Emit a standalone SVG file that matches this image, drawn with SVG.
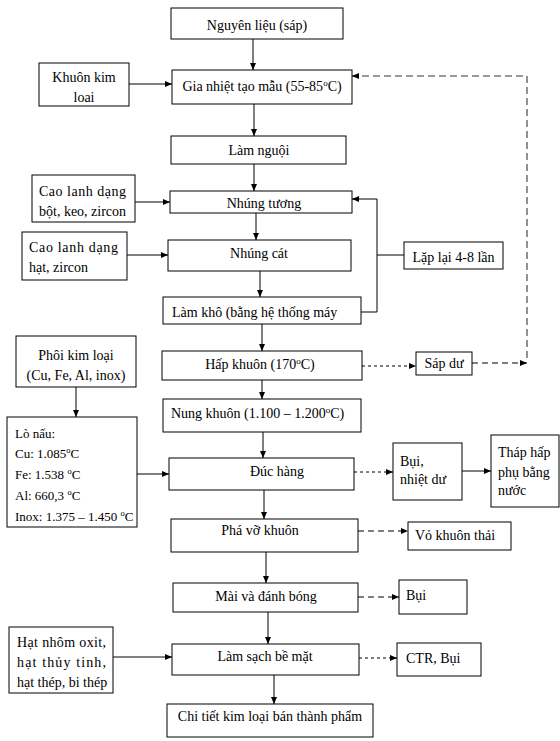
<svg xmlns="http://www.w3.org/2000/svg" width="560" height="741" viewBox="0 0 560 741">
<style>
rect{fill:#fff;stroke:#000;stroke-width:1}
text{font-family:"Liberation Serif","Times New Roman",serif;font-size:14px;fill:#000}
.c{text-anchor:middle}
.s{font-size:13px}
.ln{fill:none;stroke:#000;stroke-width:1}
.d1{stroke-dasharray:3,3}
.d2{stroke-dasharray:6,4}
.gr{fill:none;stroke:#777;stroke-width:1.6;stroke-dasharray:7,4}
</style>
<defs>
<marker id="a" markerUnits="userSpaceOnUse" markerWidth="7" markerHeight="6" refX="7" refY="3" orient="auto"><path d="M0,0 L7,3 L0,6 z" fill="#000"/></marker>
</defs>
<rect width="560" height="741" style="fill:#fff;stroke:none"/>
<g id="connectors">
<path class="ln" d="M253,39 V70" marker-end="url(#a)"/>
<path class="ln" d="M129,84 H172" marker-end="url(#a)"/>
<path class="ln" d="M254,104 V136" marker-end="url(#a)"/>
<path class="ln" d="M254,164 V191" marker-end="url(#a)"/>
<path class="ln" d="M135,202 H170" marker-end="url(#a)"/>
<path class="ln" d="M256,213 V240" marker-end="url(#a)"/>
<path class="ln" d="M127,255 H168" marker-end="url(#a)"/>
<path class="ln" d="M260,271 V297" marker-end="url(#a)"/>
<path class="ln" d="M361,312 H377 V199 H352" marker-end="url(#a)"/>
<path class="ln" d="M404,255 H377"/>
<path class="ln" d="M262,324 V351" marker-end="url(#a)"/>
<path class="ln" d="M262,380 V399" marker-end="url(#a)"/>
<path class="ln" d="M76,387 V417" marker-end="url(#a)"/>
<path class="ln" d="M137,474 H169" marker-end="url(#a)"/>
<path class="ln" d="M263,432 V458" marker-end="url(#a)"/>
<path class="ln" d="M264,490 V519" marker-end="url(#a)"/>
<path class="ln" d="M462,471 H491" marker-end="url(#a)"/>
<path class="ln" d="M266,552 V583" marker-end="url(#a)"/>
<path class="ln" d="M268,612 V644" marker-end="url(#a)"/>
<path class="ln" d="M113,657 H172" marker-end="url(#a)"/>
<path class="ln" d="M274,675 V704" marker-end="url(#a)"/>
<path class="ln d1" d="M362,366 H416" marker-end="url(#a)"/>
<path class="ln d2" d="M472,363 H527" marker-end="url(#a)"/>
<path class="gr" d="M527,358 V76 H356"/>
<path class="ln" d="M358,76 H352" marker-end="url(#a)"/>
<path class="ln d1" d="M354,472 H393" marker-end="url(#a)"/>
<path class="ln d2" d="M358,531 H408" marker-end="url(#a)"/>
<path class="ln d2" d="M358,597 H399" marker-end="url(#a)"/>
<path class="ln d1" d="M359,658 H397" marker-end="url(#a)"/>
</g>
<g id="n1"><rect x="171" y="8" width="172" height="31"/><text class="c" x="257" y="30">Nguyên liệu (sáp)</text></g>
<g id="n2"><rect x="172" y="70" width="180" height="34"/><text class="c" x="262" y="91">Gia nhiệt tạo mẫu (55-85<tspan baseline-shift="super" font-size="9">o</tspan>C)</text></g>
<g id="n3"><rect x="39" y="63" width="90" height="43"/><text class="c" x="84" y="82">Khuôn kim</text><text class="c" x="84" y="102">loai</text></g>
<g id="n4"><rect x="171" y="136" width="175" height="28"/><text class="c" x="259" y="155">Làm nguội</text></g>
<g id="n5"><rect x="32" y="175" width="103" height="47"/><text x="39" y="196" textLength="87" lengthAdjust="spacing">Cao lanh dạng</text><text x="39" y="216">bột, keo, zircon</text></g>
<g id="n6"><rect x="170" y="191" width="182" height="22"/><text class="c" x="264" y="208">Nhúng tương</text></g>
<g id="n7"><rect x="22" y="232" width="105" height="48"/><text x="29" y="252" textLength="89" lengthAdjust="spacing">Cao lanh dạng</text><text x="29" y="272">hạt, zircon</text></g>
<g id="n8"><rect x="168" y="240" width="183" height="31"/><text class="c" x="259" y="258">Nhúng cát</text></g>
<g id="n9"><rect x="163" y="297" width="198" height="27"/><text x="172" y="317">Làm khô (bằng hệ thống máy</text></g>
<g id="n10"><rect x="404" y="242" width="99" height="27"/><text class="c" x="453.5" y="262">Lặp lại 4-8 lần</text></g>
<g id="n11"><rect x="162" y="351" width="200" height="29"/><text class="c" x="260" y="369">Hấp khuôn (170<tspan baseline-shift="super" font-size="9">o</tspan>C)</text></g>
<g id="n12"><rect x="416" y="352" width="56" height="23"/><text class="c" x="444" y="368">Sáp dư</text></g>
<g id="n13"><rect x="16" y="336" width="120" height="51"/><text class="c" x="76" y="360">Phôi kim loại</text><text class="c" x="76" y="380">(Cu, Fe, Al, inox)</text></g>
<g id="n14"><rect x="163" y="399" width="198" height="33"/><text x="171" y="418">Nung khuôn (1.100 – 1.200<tspan baseline-shift="super" font-size="9">o</tspan>C)</text></g>
<g id="n15"><rect x="7" y="417" width="130" height="110"/>
<text class="s" x="15" y="438">Lò nấu:</text>
<text class="s" x="15" y="458">Cu: 1.085<tspan baseline-shift="super" font-size="8.5">o</tspan>C</text>
<text class="s" x="15" y="479">Fe: 1.538 <tspan baseline-shift="super" font-size="8.5">o</tspan>C</text>
<text class="s" x="15" y="500">Al: 660,3 <tspan baseline-shift="super" font-size="8.5">o</tspan>C</text>
<text class="s" x="15" y="521">Inox: 1.375 – 1.450 <tspan baseline-shift="super" font-size="8.5">o</tspan>C</text></g>
<g id="n16"><rect x="169" y="458" width="185" height="32"/><text x="250" y="476">Đúc hàng</text></g>
<g id="n17"><rect x="393" y="443" width="69" height="57"/><text x="400" y="466">Bụi,</text><text x="400" y="484">nhiệt dư</text></g>
<g id="n18"><rect x="491" y="435" width="68" height="72"/><text x="498" y="457">Tháp hấp</text><text x="498" y="477">phụ bằng</text><text x="498" y="495">nước</text></g>
<g id="n19"><rect x="171" y="519" width="187" height="33"/><text class="c" x="260" y="535">Phá vỡ khuôn</text></g>
<g id="n20"><rect x="408" y="522" width="103" height="28"/><text x="415" y="540">Vỏ khuôn thải</text></g>
<g id="n21"><rect x="173" y="583" width="185" height="29"/><text class="c" x="266" y="601">Mài và đánh bóng</text></g>
<g id="n22"><rect x="399" y="580" width="68" height="34"/><text x="406" y="600">Bụi</text></g>
<g id="n23"><rect x="9" y="627" width="104" height="66"/><text x="17" y="647" textLength="89" lengthAdjust="spacing">Hạt nhôm oxit,</text><text x="17" y="667" textLength="89" lengthAdjust="spacing">hạt thủy tinh,</text><text x="17" y="687">hạt thép, bi thép</text></g>
<g id="n24"><rect x="172" y="644" width="187" height="31"/><text class="c" x="265" y="661">Làm sạch bề mặt</text></g>
<g id="n25"><rect x="397" y="643" width="84" height="33"/><text x="406" y="663">CTR, Bụi</text></g>
<g id="n26"><rect x="167" y="704" width="206" height="33"/><text class="c" x="270" y="721">Chi tiết kim loại bán thành phẩm</text></g>
</svg>
